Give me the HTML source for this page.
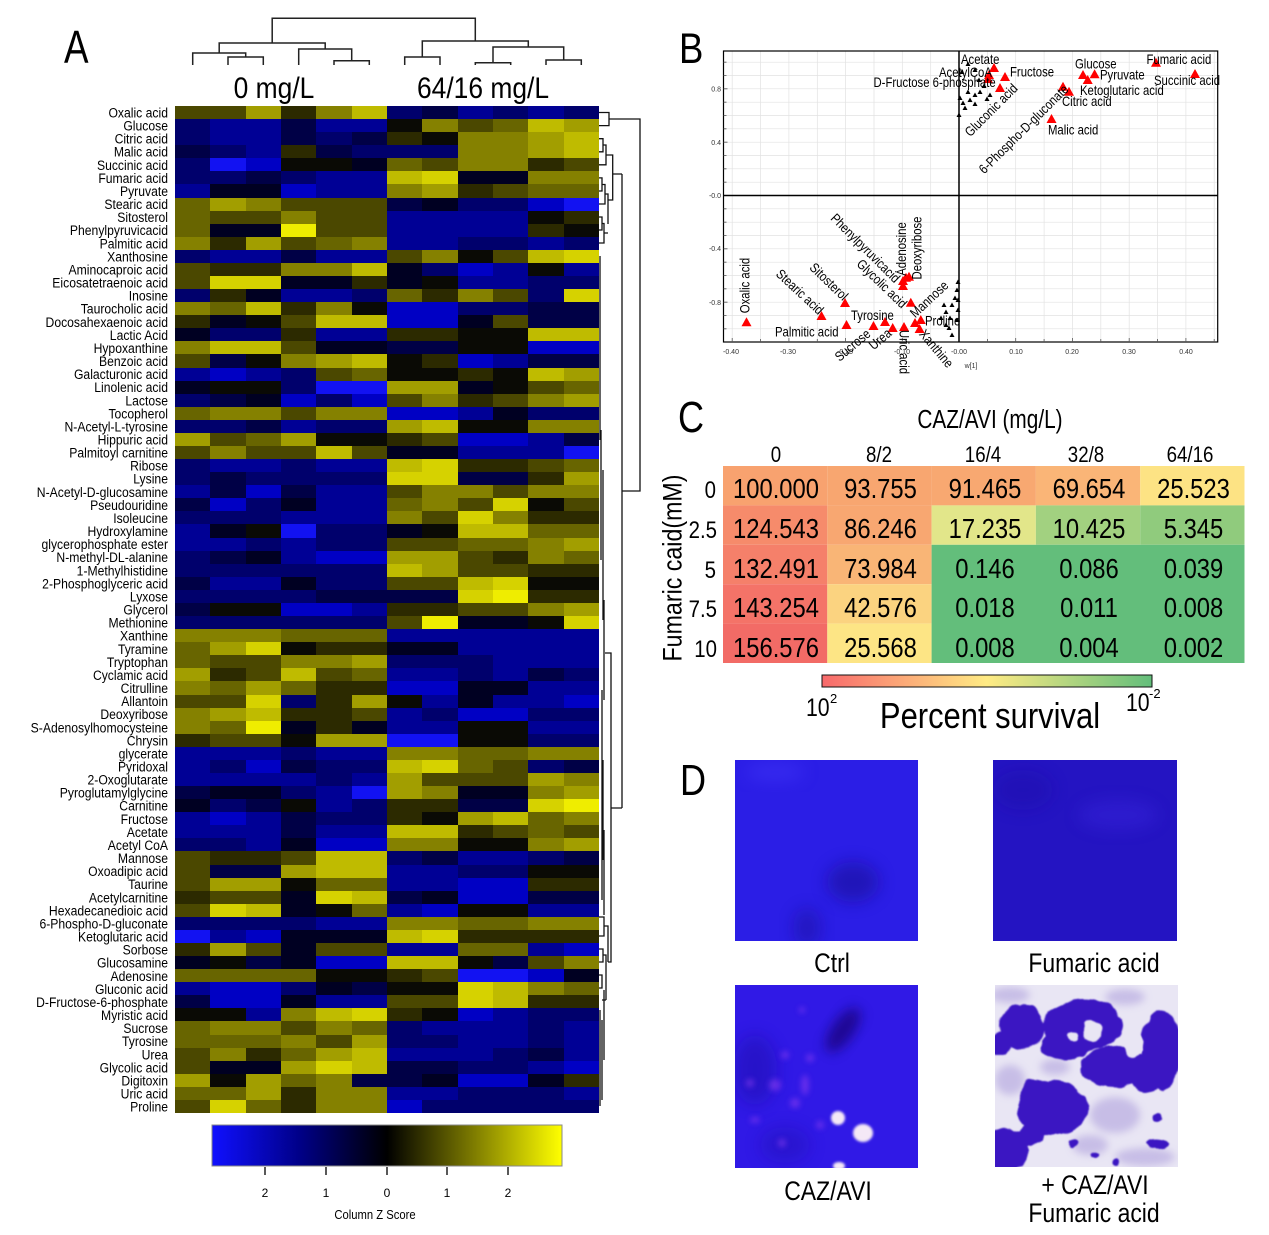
<!DOCTYPE html>
<html><head><meta charset="utf-8"><style>
html,body{margin:0;padding:0;background:#fff}
#w{position:relative;width:1269px;height:1235px;overflow:hidden;background:#fff}
#w>svg{position:absolute;left:0;top:0}
#hm{position:absolute;left:175px;top:106px;width:424px;height:1007px;display:grid;grid-template-columns:repeat(12,1fr);grid-template-rows:repeat(77,1fr)}
#hm i{display:block}
.a{background:#1212f2}.b{background:#0000c4}.c{background:#000095}.d{background:#00006c}.e{background:#000046}.f{background:#000022}
.k{background:#0a0a05}.p{background:#2c2a00}.q{background:#4b4800}.r{background:#686500}.s{background:#858100}.t{background:#a29e00}.u{background:#bfbb00}.v{background:#d6d200}.w{background:#efed00}
</style></head><body><div id="w">
<svg width="1269" height="1235" viewBox="0 0 1269 1235" font-family="Liberation Sans, Arial, sans-serif">
<defs>
<linearGradient id="zg" x1="0" x2="1" y1="0" y2="0"><stop offset="0" stop-color="#1010ff"/><stop offset=".25" stop-color="#000088"/><stop offset=".5" stop-color="#000"/><stop offset=".75" stop-color="#7f7d00"/><stop offset="1" stop-color="#ffff00"/></linearGradient>
<linearGradient id="cg" x1="0" x2="1" y1="0" y2="0"><stop offset="0" stop-color="#f8696b"/><stop offset=".5" stop-color="#ffeb84"/><stop offset="1" stop-color="#63be7b"/></linearGradient>
<filter id="bl" x="-50%" y="-50%" width="200%" height="200%"><feGaussianBlur stdDeviation="8"/></filter>
<filter id="bl6" x="-50%" y="-50%" width="200%" height="200%"><feGaussianBlur stdDeviation="6"/></filter>
<filter id="bl2" x="-50%" y="-50%" width="200%" height="200%"><feGaussianBlur stdDeviation="1.3"/></filter>
<filter id="bl3" x="-50%" y="-50%" width="200%" height="200%"><feGaussianBlur stdDeviation="3"/></filter>
<filter id="bl4" x="-50%" y="-50%" width="200%" height="200%"><feGaussianBlur stdDeviation="4"/></filter>
<filter id="rough" x="-20%" y="-20%" width="140%" height="140%"><feTurbulence type="fractalNoise" baseFrequency="0.07" numOctaves="2" seed="3" result="n"/><feDisplacementMap in="SourceGraphic" in2="n" scale="8" xChannelSelector="R" yChannelSelector="G" result="d"/><feGaussianBlur in="d" stdDeviation="0.8"/></filter>
<path id="rt" d="M-5 4H5L0-5Z" fill="#f00"/>
<path id="bt" d="M-2.5 2H2.5L0-2.5Z" fill="#000"/>
</defs>

<!-- Panel A -->
<text transform="translate(64,63) scale(0.8,1)" font-size="46">A</text>
<text transform="translate(274,98) scale(0.88,1)" font-size="30" text-anchor="middle">0 mg/L</text>
<text transform="translate(483,98) scale(0.88,1)" font-size="30" text-anchor="middle">64/16 mg/L</text>
<path fill="none" stroke="#222" stroke-width="1.5" d="M272.2 43V18.3H475.3V41M219.2 53V43H325.2V49M192.7 65V53H245.7V57M228 65V57H263.3V65M298.7 65V49H351.7V60.7M334 65V60.7H369.3V65M422.3 57V41H528.3V47M404.7 65V57H440V65M493 62.7V47H563.7V60M475.3 65V62.7H510.7V65M546 65V60H581.3V65"/>

<path fill="none" stroke="#111" stroke-width="1.3" d="M599 112.5H609V125.6H599M609 119H640V491H622M622 174V808M612.7 174H622M611 808H622M599 138.7H603V151.8H599M603 145H606V164.8H599M606 155H612.7V200H608M599 177.9H602V191H599M602 184.5H605V204H599M605 194H608V224M599 217H602V230H599M602 223.5H604V243H599M604 233H608M600 256V440M601 430V560M603 470V620M604 600V700M605 653H611V962H608M602 690V900M603 760V860M604 830V915M599 917H604V936H599M604 926H608V962M599 949H603V962H599M603 955H606V1000M599 975H602V988H599M602 1000H606M600 1010V1106M602 1020V1100M604 990V1060"/>

<text font-size="14" text-anchor="end" transform="scale(0.87,1)">
<tspan x="193.1" y="117.5">Oxalic acid</tspan><tspan x="193.1" dy="13.08">Glucose</tspan><tspan x="193.1" dy="13.08">Citric acid</tspan><tspan x="193.1" dy="13.08">Malic acid</tspan><tspan x="193.1" dy="13.08">Succinic acid</tspan><tspan x="193.1" dy="13.08">Fumaric acid</tspan><tspan x="193.1" dy="13.08">Pyruvate</tspan><tspan x="193.1" dy="13.08">Stearic acid</tspan><tspan x="193.1" dy="13.08">Sitosterol</tspan><tspan x="193.1" dy="13.08">Phenylpyruvicacid</tspan><tspan x="193.1" dy="13.08">Palmitic acid</tspan><tspan x="193.1" dy="13.08">Xanthosine</tspan><tspan x="193.1" dy="13.08">Aminocaproic acid</tspan><tspan x="193.1" dy="13.08">Eicosatetraenoic acid</tspan><tspan x="193.1" dy="13.08">Inosine</tspan><tspan x="193.1" dy="13.08">Taurocholic acid</tspan><tspan x="193.1" dy="13.08">Docosahexaenoic acid</tspan><tspan x="193.1" dy="13.08">Lactic Acid</tspan><tspan x="193.1" dy="13.08">Hypoxanthine</tspan><tspan x="193.1" dy="13.08">Benzoic acid</tspan><tspan x="193.1" dy="13.08">Galacturonic acid</tspan><tspan x="193.1" dy="13.08">Linolenic acid</tspan><tspan x="193.1" dy="13.08">Lactose</tspan><tspan x="193.1" dy="13.08">Tocopherol</tspan><tspan x="193.1" dy="13.08">N-Acetyl-L-tyrosine</tspan><tspan x="193.1" dy="13.08">Hippuric acid</tspan><tspan x="193.1" dy="13.08">Palmitoyl carnitine</tspan><tspan x="193.1" dy="13.08">Ribose</tspan><tspan x="193.1" dy="13.08">Lysine</tspan><tspan x="193.1" dy="13.08">N-Acetyl-D-glucosamine</tspan><tspan x="193.1" dy="13.08">Pseudouridine</tspan><tspan x="193.1" dy="13.08">Isoleucine</tspan><tspan x="193.1" dy="13.08">Hydroxylamine</tspan><tspan x="193.1" dy="13.08">glycerophosphate ester</tspan><tspan x="193.1" dy="13.08">N-methyl-DL-alanine</tspan><tspan x="193.1" dy="13.08">1-Methylhistidine</tspan><tspan x="193.1" dy="13.08">2-Phosphoglyceric acid</tspan><tspan x="193.1" dy="13.08">Lyxose</tspan><tspan x="193.1" dy="13.08">Glycerol</tspan><tspan x="193.1" dy="13.08">Methionine</tspan><tspan x="193.1" dy="13.08">Xanthine</tspan><tspan x="193.1" dy="13.08">Tyramine</tspan><tspan x="193.1" dy="13.08">Tryptophan</tspan><tspan x="193.1" dy="13.08">Cyclamic acid</tspan><tspan x="193.1" dy="13.08">Citrulline</tspan><tspan x="193.1" dy="13.08">Allantoin</tspan><tspan x="193.1" dy="13.08">Deoxyribose</tspan><tspan x="193.1" dy="13.08">S-Adenosylhomocysteine</tspan><tspan x="193.1" dy="13.08">Chrysin</tspan><tspan x="193.1" dy="13.08">glycerate</tspan><tspan x="193.1" dy="13.08">Pyridoxal</tspan><tspan x="193.1" dy="13.08">2-Oxoglutarate</tspan><tspan x="193.1" dy="13.08">Pyroglutamylglycine</tspan><tspan x="193.1" dy="13.08">Carnitine</tspan><tspan x="193.1" dy="13.08">Fructose</tspan><tspan x="193.1" dy="13.08">Acetate</tspan><tspan x="193.1" dy="13.08">Acetyl CoA</tspan><tspan x="193.1" dy="13.08">Mannose</tspan><tspan x="193.1" dy="13.08">Oxoadipic acid</tspan><tspan x="193.1" dy="13.08">Taurine</tspan><tspan x="193.1" dy="13.08">Acetylcarnitine</tspan><tspan x="193.1" dy="13.08">Hexadecanedioic acid</tspan><tspan x="193.1" dy="13.08">6-Phospho-D-gluconate</tspan><tspan x="193.1" dy="13.08">Ketoglutaric acid</tspan><tspan x="193.1" dy="13.08">Sorbose</tspan><tspan x="193.1" dy="13.08">Glucosamine</tspan><tspan x="193.1" dy="13.08">Adenosine</tspan><tspan x="193.1" dy="13.08">Gluconic acid</tspan><tspan x="193.1" dy="13.08">D-Fructose-6-phosphate</tspan><tspan x="193.1" dy="13.08">Myristic acid</tspan><tspan x="193.1" dy="13.08">Sucrose</tspan><tspan x="193.1" dy="13.08">Tyrosine</tspan><tspan x="193.1" dy="13.08">Urea</tspan><tspan x="193.1" dy="13.08">Glycolic acid</tspan><tspan x="193.1" dy="13.08">Digitoxin</tspan><tspan x="193.1" dy="13.08">Uric acid</tspan><tspan x="193.1" dy="13.08">Proline</tspan>
</text>

<rect x="212" y="1125" width="350" height="41" fill="url(#zg)" stroke="#888" stroke-width="1"/>
<path stroke="#222" stroke-width="1.5" d="M265 1167V1175M326 1167V1175M387 1167V1175M447 1167V1175M508 1167V1175"/>
<g font-size="12" text-anchor="middle"><text x="265" y="1197">2</text><text x="326" y="1197">1</text><text x="387" y="1197">0</text><text x="447" y="1197">1</text><text x="508" y="1197">2</text></g>
<text transform="translate(375,1219) scale(0.9,1)" font-size="12.5" text-anchor="middle">Column Z Score</text>

<!-- Panel B -->
<text transform="translate(679,63) scale(0.85,1)" font-size="43">B</text>
<path fill="none" stroke="#e2e2e2" stroke-width="0.7" d="M732.2 51V342M760.6 51V342M788.9 51V342M817.3 51V342M845.6 51V342M874 51V342M902.3 51V342M930.7 51V342M987.4 51V342M1015.7 51V342M1044.1 51V342M1072.4 51V342M1100.8 51V342M1129.2 51V342M1157.5 51V342M1185.9 51V342M1214.2 51V342M723.5 62.2H1217.7M723.5 75.5H1217.7M723.5 88.8H1217.7M723.5 102.2H1217.7M723.5 115.5H1217.7M723.5 128.8H1217.7M723.5 142.2H1217.7M723.5 155.5H1217.7M723.5 168.8H1217.7M723.5 182.2H1217.7M723.5 208.8H1217.7M723.5 222.2H1217.7M723.5 235.5H1217.7M723.5 248.8H1217.7M723.5 262.2H1217.7M723.5 275.5H1217.7M723.5 288.8H1217.7M723.5 302.2H1217.7M723.5 315.5H1217.7M723.5 328.8H1217.7"/>
<rect x="723.5" y="51" width="494.2" height="291" fill="none" stroke="#000" stroke-width="1.2"/>
<path stroke="#000" stroke-width="1.5" d="M959 51V342M723.5 195.5H1217.7"/>
<path stroke="#555" stroke-width="0.8" d="M723.5 62.2h3M723.5 75.5h3M723.5 88.8h4M723.5 102.2h3M723.5 115.5h3M723.5 128.8h3M723.5 142.2h4M723.5 155.5h3M723.5 168.8h3M723.5 182.2h3M723.5 208.8h3M723.5 222.2h3M723.5 235.5h3M723.5 248.8h4M723.5 262.2h3M723.5 275.5h3M723.5 288.8h3M723.5 302.2h4M723.5 315.5h3M723.5 328.8h3M732.2 342v-4M760.6 342v-3M788.9 342v-4M817.3 342v-3M845.6 342v-4M874 342v-3M902.3 342v-4M930.7 342v-3M987.4 342v-3M1015.7 342v-4M1044.1 342v-3M1072.4 342v-4M1100.8 342v-3M1129.2 342v-4M1157.5 342v-3M1185.9 342v-4M1214.2 342v-3"/>
<g font-size="7" fill="#333" text-anchor="end"><text x="721" y="91.5">0.8</text><text x="721" y="145">0.4</text><text x="721" y="198">-0.0</text><text x="721" y="251">-0.4</text><text x="721" y="305">-0.8</text></g>
<g font-size="7" fill="#333" text-anchor="middle"><text x="731" y="354">-0.40</text><text x="788" y="354">-0.30</text><text x="845" y="354">-0.20</text><text x="902" y="354">-0.10</text><text x="959" y="354">-0.00</text><text x="1016" y="354">0.10</text><text x="1072" y="354">0.20</text><text x="1129" y="354">0.30</text><text x="1186" y="354">0.40</text><text x="971" y="368">w[1]</text></g>

<g>
<use href="#bt" x="968" y="64"/><use href="#bt" x="975" y="70"/><use href="#bt" x="962" y="72"/><use href="#bt" x="979" y="80"/><use href="#bt" x="984" y="86"/><use href="#bt" x="968" y="92"/><use href="#bt" x="975" y="95"/><use href="#bt" x="960" y="98"/><use href="#bt" x="963" y="103"/><use href="#bt" x="970" y="100"/><use href="#bt" x="987" y="99"/><use href="#bt" x="975" y="104"/><use href="#bt" x="959" y="115"/><use href="#bt" x="965" y="108"/><use href="#bt" x="980" y="92"/><use href="#bt" x="990" y="95"/>
<use href="#bt" x="958" y="282"/><use href="#bt" x="957" y="290"/><use href="#bt" x="955" y="298"/><use href="#bt" x="952" y="305"/><use href="#bt" x="944" y="305"/><use href="#bt" x="946" y="312"/><use href="#bt" x="941" y="318"/><use href="#bt" x="950" y="318"/><use href="#bt" x="958" y="310"/><use href="#bt" x="957" y="320"/><use href="#bt" x="949" y="328"/><use href="#bt" x="952" y="335"/><use href="#bt" x="946" y="325"/><use href="#bt" x="958" y="300"/>
</g>
<g>
<use href="#rt" x="746.5" y="322.3"/><use href="#rt" x="821.5" y="316"/><use href="#rt" x="845" y="303"/><use href="#rt" x="846.5" y="325"/><use href="#rt" x="873.5" y="326"/><use href="#rt" x="885" y="322"/><use href="#rt" x="892.7" y="328"/><use href="#rt" x="904" y="327"/><use href="#rt" x="919.6" y="329"/><use href="#rt" x="920.8" y="320"/><use href="#rt" x="915" y="323"/><use href="#rt" x="910.8" y="302.7"/><use href="#rt" x="903" y="286"/><use href="#rt" x="906" y="277.7"/><use href="#rt" x="903" y="281"/><use href="#rt" x="909" y="276.7"/>
<use href="#rt" x="994" y="68"/><use href="#rt" x="989" y="75"/><use href="#rt" x="988" y="79"/><use href="#rt" x="1005" y="77"/><use href="#rt" x="1000" y="88"/><use href="#rt" x="1063" y="86.7"/><use href="#rt" x="1083" y="75"/><use href="#rt" x="1094.6" y="74.3"/><use href="#rt" x="1087.7" y="80"/><use href="#rt" x="1069" y="91.7"/><use href="#rt" x="1051.5" y="119"/><use href="#rt" x="1156" y="62.7"/><use href="#rt" x="1195" y="74"/>
</g>
<g font-size="13.5">
<text transform="translate(961,64) scale(0.84,1)">Acetate</text>
<text transform="translate(939,77) scale(0.84,1)">AcetylCoA</text>
<text transform="translate(873.5,87) scale(0.84,1)">D-Fructose 6-phosphate</text>
<text transform="translate(1010,76.5) scale(0.84,1)">Fructose</text>
<text transform="translate(1075,68.5) scale(0.84,1)">Glucose</text>
<text transform="translate(1100,79.5) scale(0.84,1)">Pyruvate</text>
<text transform="translate(1080,95) scale(0.84,1)">Ketoglutaric acid</text>
<text transform="translate(1062,106) scale(0.84,1)">Citric acid</text>
<text transform="translate(1048,134.5) scale(0.84,1)">Malic acid</text>
<text transform="translate(1146.5,64) scale(0.84,1)">Fumaric acid</text>
<text transform="translate(1154,85) scale(0.84,1)">Succinic acid</text>
<text transform="translate(775,336.5) scale(0.84,1)">Palmitic acid</text>
<text transform="translate(851,320) scale(0.84,1)">Tyrosine</text>
<text transform="translate(925,325.5) scale(0.84,1)">Proline</text>
</g>
<g font-size="13.5" text-anchor="middle">
<text transform="translate(745,285.5) rotate(-90) scale(0.84,1)" dy="0.35em">Oxalic acid</text>
<text transform="translate(800,291.7) rotate(43) scale(0.84,1)" dy="0.35em">Stearic acid</text>
<text transform="translate(829,281.5) rotate(44) scale(0.84,1)" dy="0.35em">Sitosterol</text>
<text transform="translate(865.5,248) rotate(45) scale(0.84,1)" dy="0.35em">Phenylpyruvicacid</text>
<text transform="translate(882,283.5) rotate(44) scale(0.84,1)" dy="0.35em">Glycolic acid</text>
<text transform="translate(901.5,249) rotate(-90) scale(0.84,1)" dy="0.35em">Adenosine</text>
<text transform="translate(917,248) rotate(-90) scale(0.84,1)" dy="0.35em">Deoxyribose</text>
<text transform="translate(929,299) rotate(-43) scale(0.84,1)" dy="0.35em">Mannose</text>
<text transform="translate(936.5,348.5) rotate(50) scale(0.84,1)" dy="0.35em">Xanthine</text>
<text transform="translate(904,352) rotate(90) scale(0.84,1)" dy="0.35em">Uric acid</text>
<text transform="translate(880,339) rotate(-40) scale(0.84,1)" dy="0.35em">Urea</text>
<text transform="translate(852.5,345) rotate(-40) scale(0.84,1)" dy="0.35em">Sucrose</text>
<text transform="translate(991,110) rotate(-45) scale(0.84,1)" dy="0.35em">Gluconic acid</text>
<text transform="translate(1023.5,129) rotate(-44.7) scale(0.84,1)" dy="0.35em">6-Phospho-D-gluconate</text>
</g>

<!-- Panel C -->
<text transform="translate(678,432) scale(0.82,1)" font-size="44">C</text>
<text transform="translate(990,428) scale(0.8,1)" font-size="26" text-anchor="middle">CAZ/AVI (mg/L)</text>
<g font-size="22" text-anchor="middle">
<text transform="translate(776,462) scale(0.85,1)">0</text>
<text transform="translate(879,462) scale(0.85,1)">8/2</text>
<text transform="translate(983,462) scale(0.85,1)">16/4</text>
<text transform="translate(1086,462) scale(0.85,1)">32/8</text>
<text transform="translate(1190,462) scale(0.85,1)">64/16</text>
</g>
<g>
<rect x="723" y="466" width="104.3" height="39.4" fill="#f8a26f"/>
<rect x="827.3" y="466" width="104.3" height="39.4" fill="#f8a670"/>
<rect x="931.6" y="466" width="104.3" height="39.4" fill="#f8a871"/>
<rect x="1035.9" y="466" width="104.3" height="39.4" fill="#fab577"/>
<rect x="1140.2" y="466" width="104.3" height="39.4" fill="#fde384"/>
<rect x="723" y="505.4" width="104.3" height="39.4" fill="#f68b6b"/>
<rect x="827.3" y="505.4" width="104.3" height="39.4" fill="#f8a771"/>
<rect x="931.6" y="505.4" width="104.3" height="39.4" fill="#e2e68a"/>
<rect x="1035.9" y="505.4" width="104.3" height="39.4" fill="#a2d180"/>
<rect x="1140.2" y="505.4" width="104.3" height="39.4" fill="#90cb7d"/>
<rect x="723" y="544.8" width="104.3" height="39.4" fill="#f5806a"/>
<rect x="827.3" y="544.8" width="104.3" height="39.4" fill="#f9b576"/>
<rect x="723" y="584.2" width="104.3" height="39.4" fill="#f47368"/>
<rect x="827.3" y="584.2" width="104.3" height="39.4" fill="#fbd380"/>
<rect x="723" y="623.6" width="104.3" height="39.4" fill="#f26b66"/>
<rect x="827.3" y="623.6" width="104.3" height="39.4" fill="#fde585"/>
<rect x="931.6" y="544.8" width="312.9" height="118.2" fill="#63be7b"/>
</g>
<g font-size="28" text-anchor="middle">
<text transform="translate(776,498) scale(0.85,1)">100.000</text><text transform="translate(880.5,498) scale(0.85,1)">93.755</text><text transform="translate(985,498) scale(0.85,1)">91.465</text><text transform="translate(1089,498) scale(0.85,1)">69.654</text><text transform="translate(1193.5,498) scale(0.85,1)">25.523</text>
<text transform="translate(776,538) scale(0.85,1)">124.543</text><text transform="translate(880.5,538) scale(0.85,1)">86.246</text><text transform="translate(985,538) scale(0.85,1)">17.235</text><text transform="translate(1089,538) scale(0.85,1)">10.425</text><text transform="translate(1193.5,538) scale(0.85,1)">5.345</text>
<text transform="translate(776,578) scale(0.85,1)">132.491</text><text transform="translate(880.5,578) scale(0.85,1)">73.984</text><text transform="translate(985,578) scale(0.85,1)">0.146</text><text transform="translate(1089,578) scale(0.85,1)">0.086</text><text transform="translate(1193.5,578) scale(0.85,1)">0.039</text>
<text transform="translate(776,617) scale(0.85,1)">143.254</text><text transform="translate(880.5,617) scale(0.85,1)">42.576</text><text transform="translate(985,617) scale(0.85,1)">0.018</text><text transform="translate(1089,617) scale(0.85,1)">0.011</text><text transform="translate(1193.5,617) scale(0.85,1)">0.008</text>
<text transform="translate(776,657) scale(0.85,1)">156.576</text><text transform="translate(880.5,657) scale(0.85,1)">25.568</text><text transform="translate(985,657) scale(0.85,1)">0.008</text><text transform="translate(1089,657) scale(0.85,1)">0.004</text><text transform="translate(1193.5,657) scale(0.85,1)">0.002</text>
</g>
<g font-size="24" text-anchor="end">
<text transform="translate(716,498) scale(0.85,1)">0</text>
<text transform="translate(717,538) scale(0.85,1)">2.5</text>
<text transform="translate(716,578) scale(0.85,1)">5</text>
<text transform="translate(717,617) scale(0.85,1)">7.5</text>
<text transform="translate(717,657) scale(0.85,1)">10</text>
</g>
<text transform="translate(681.5,568) rotate(-90)" font-size="27" text-anchor="middle" textLength="187" lengthAdjust="spacingAndGlyphs">Fumaric caid(mM)</text>
<rect x="822" y="675" width="330" height="12" fill="url(#cg)" stroke="#111" stroke-width="1"/>
<text transform="translate(806,716) scale(0.85,1)" font-size="25">10</text>
<text x="830" y="703" font-size="13">2</text>
<text transform="translate(990,728) scale(0.86,1)" font-size="36" text-anchor="middle">Percent survival</text>
<text transform="translate(1126,711) scale(0.85,1)" font-size="25">10</text>
<text x="1149" y="698" font-size="13">-2</text>

<!-- Panel D -->
<text transform="translate(680,795) scale(0.82,1)" font-size="44">D</text>
<svg x="735" y="760" width="183" height="181">
<rect width="183" height="181" fill="#2b1ee6"/>
<ellipse cx="118" cy="122" rx="26" ry="20" fill="#160a8c" opacity=".5" filter="url(#bl)"/>
<ellipse cx="72" cy="168" rx="14" ry="20" fill="#160a8c" opacity=".4" filter="url(#bl)"/>
<ellipse cx="40" cy="12" rx="30" ry="10" fill="#4a3cff" opacity=".35" filter="url(#bl)"/>
</svg>
<svg x="993" y="760" width="184" height="181">
<rect width="184" height="181" fill="#2414c2"/>
<ellipse cx="125" cy="55" rx="40" ry="15" fill="#3a28e0" opacity=".4" filter="url(#bl)"/>
<ellipse cx="30" cy="30" rx="30" ry="20" fill="#1d0fa8" opacity=".4" filter="url(#bl)"/>
</svg>
<svg x="735" y="985" width="183" height="183">
<rect width="183" height="183" fill="#3019e6"/>
<ellipse cx="20" cy="85" rx="22" ry="35" fill="#1e0ea8" opacity=".45" filter="url(#bl)"/>
<ellipse cx="50" cy="160" rx="25" ry="18" fill="#1e0ea8" opacity=".35" filter="url(#bl)"/>
<ellipse cx="0" cy="0" rx="26" ry="11" transform="translate(108,45) rotate(-55)" fill="#120670" opacity=".7" filter="url(#bl6)"/>
<g fill="#8a3cf0" opacity=".6" filter="url(#bl3)">
<circle cx="67" cy="25" r="3"/><circle cx="75" cy="73" r="4"/><ellipse cx="20" cy="135" rx="5" ry="3"/><circle cx="15" cy="98" r="4"/><circle cx="47" cy="158" r="4"/><circle cx="60" cy="118" r="5"/><circle cx="40" cy="100" r="6"/><ellipse cx="70" cy="100" rx="4" ry="10"/><circle cx="85" cy="140" r="4"/><circle cx="50" cy="70" r="4"/>
</g>
<g fill="#f4e8f6" filter="url(#bl2)">
<ellipse cx="103" cy="133" rx="7" ry="7"/><ellipse cx="128" cy="148" rx="10" ry="9"/><ellipse cx="104" cy="181" rx="6" ry="4"/>
</g>
</svg>
<svg x="995" y="985" width="183" height="182">
<rect width="183" height="182" fill="#e9e6f4"/>
<g fill="#bcb0e2" opacity=".75" filter="url(#bl4)">
<ellipse cx="15" cy="10" rx="20" ry="8"/><ellipse cx="15" cy="95" rx="15" ry="15"/><ellipse cx="120" cy="130" rx="25" ry="18"/><ellipse cx="150" cy="172" rx="30" ry="9"/><ellipse cx="130" cy="12" rx="20" ry="8"/><ellipse cx="95" cy="160" rx="18" ry="10"/><ellipse cx="60" cy="82" rx="15" ry="8"/>
</g>
<g fill="#3a12c2" filter="url(#rough)">
<ellipse cx="27" cy="42" rx="22" ry="22"/>
<ellipse cx="88" cy="40" rx="40" ry="26"/>
<ellipse cx="70" cy="60" rx="25" ry="15"/>
<ellipse cx="120" cy="82" rx="35" ry="20"/>
<ellipse cx="166" cy="65" rx="20" ry="40"/>
<ellipse cx="150" cy="96" rx="15" ry="12"/>
<ellipse cx="6" cy="60" rx="10" ry="12"/>
<ellipse cx="57" cy="123" rx="35" ry="28"/>
<ellipse cx="40" cy="110" rx="15" ry="15"/>
<ellipse cx="12" cy="165" rx="22" ry="22"/>
<ellipse cx="35" cy="150" rx="12" ry="10"/>
<circle cx="162" cy="133" r="5"/><ellipse cx="162" cy="158" rx="11" ry="4"/><circle cx="78" cy="158" r="5"/><circle cx="122" cy="177" r="4"/><circle cx="100" cy="170" r="3"/>
</g>
<g fill="#e9e6f4" filter="url(#rough)">
<ellipse cx="98" cy="46" rx="9" ry="11"/><ellipse cx="78" cy="52" rx="5" ry="4"/><ellipse cx="138" cy="58" rx="10" ry="14"/>
</g>
</svg>
<g font-size="27" text-anchor="middle">
<text transform="translate(832,972) scale(0.85,1)">Ctrl</text>
<text transform="translate(1094,972) scale(0.85,1)">Fumaric acid</text>
<text transform="translate(828,1200) scale(0.85,1)">CAZ/AVI</text>
<text transform="translate(1095,1194) scale(0.85,1)">+ CAZ/AVI</text>
<text transform="translate(1094,1222) scale(0.85,1)">Fumaric acid</text>
</g>
</svg>
<div id="hm">
<i class=q></i><i class=q></i><i class=t></i><i class=p></i><i class=s></i><i class=u></i><i class=d></i><i class=e></i><i class=c></i><i class=d></i><i class=c></i><i class=d></i>
<i class=d></i><i class=c></i><i class=c></i><i class=e></i><i class=c></i><i class=c></i><i class=k></i><i class=s></i><i class=q></i><i class=r></i><i class=u></i><i class=t></i>
<i class=d></i><i class=c></i><i class=c></i><i class=e></i><i class=d></i><i class=e></i><i class=p></i><i class=k></i><i class=s></i><i class=s></i><i class=t></i><i class=u></i>
<i class=e></i><i class=d></i><i class=c></i><i class=p></i><i class=e></i><i class=d></i><i class=d></i><i class=d></i><i class=s></i><i class=s></i><i class=t></i><i class=u></i>
<i class=d></i><i class=a></i><i class=b></i><i class=k></i><i class=k></i><i class=f></i><i class=r></i><i class=q></i><i class=s></i><i class=s></i><i class=p></i><i class=q></i>
<i class=d></i><i class=d></i><i class=e></i><i class=d></i><i class=c></i><i class=c></i><i class=u></i><i class=v></i><i class=f></i><i class=f></i><i class=s></i><i class=s></i>
<i class=c></i><i class=f></i><i class=f></i><i class=b></i><i class=c></i><i class=c></i><i class=s></i><i class=t></i><i class=p></i><i class=q></i><i class=r></i><i class=r></i>
<i class=r></i><i class=t></i><i class=s></i><i class=q></i><i class=q></i><i class=q></i><i class=e></i><i class=f></i><i class=d></i><i class=d></i><i class=b></i><i class=a></i>
<i class=r></i><i class=q></i><i class=q></i><i class=s></i><i class=q></i><i class=q></i><i class=c></i><i class=c></i><i class=c></i><i class=c></i><i class=k></i><i class=p></i>
<i class=r></i><i class=f></i><i class=f></i><i class=w></i><i class=q></i><i class=q></i><i class=c></i><i class=c></i><i class=c></i><i class=c></i><i class=p></i><i class=k></i>
<i class=s></i><i class=p></i><i class=t></i><i class=q></i><i class=r></i><i class=s></i><i class=c></i><i class=c></i><i class=d></i><i class=d></i><i class=c></i><i class=d></i>
<i class=d></i><i class=c></i><i class=c></i><i class=e></i><i class=c></i><i class=c></i><i class=q></i><i class=s></i><i class=k></i><i class=q></i><i class=u></i><i class=v></i>
<i class=q></i><i class=p></i><i class=p></i><i class=s></i><i class=s></i><i class=u></i><i class=f></i><i class=d></i><i class=b></i><i class=c></i><i class=k></i><i class=c></i>
<i class=q></i><i class=v></i><i class=v></i><i class=f></i><i class=f></i><i class=p></i><i class=f></i><i class=k></i><i class=c></i><i class=c></i><i class=d></i><i class=d></i>
<i class=d></i><i class=p></i><i class=f></i><i class=c></i><i class=c></i><i class=d></i><i class=r></i><i class=p></i><i class=s></i><i class=q></i><i class=d></i><i class=v></i>
<i class=s></i><i class=r></i><i class=u></i><i class=p></i><i class=s></i><i class=k></i><i class=b></i><i class=b></i><i class=d></i><i class=d></i><i class=e></i><i class=e></i>
<i class=p></i><i class=f></i><i class=k></i><i class=q></i><i class=u></i><i class=u></i><i class=b></i><i class=b></i><i class=f></i><i class=q></i><i class=e></i><i class=e></i>
<i class=f></i><i class=d></i><i class=d></i><i class=p></i><i class=c></i><i class=c></i><i class=p></i><i class=p></i><i class=k></i><i class=k></i><i class=u></i><i class=u></i>
<i class=s></i><i class=u></i><i class=u></i><i class=q></i><i class=f></i><i class=f></i><i class=e></i><i class=e></i><i class=k></i><i class=k></i><i class=b></i><i class=b></i>
<i class=q></i><i class=e></i><i class=k></i><i class=s></i><i class=t></i><i class=u></i><i class=k></i><i class=p></i><i class=b></i><i class=c></i><i class=e></i><i class=e></i>
<i class=c></i><i class=b></i><i class=c></i><i class=d></i><i class=q></i><i class=r></i><i class=k></i><i class=k></i><i class=p></i><i class=k></i><i class=u></i><i class=t></i>
<i class=f></i><i class=k></i><i class=k></i><i class=d></i><i class=a></i><i class=a></i><i class=t></i><i class=t></i><i class=f></i><i class=k></i><i class=q></i><i class=r></i>
<i class=d></i><i class=e></i><i class=f></i><i class=b></i><i class=d></i><i class=b></i><i class=q></i><i class=s></i><i class=p></i><i class=q></i><i class=s></i><i class=t></i>
<i class=r></i><i class=s></i><i class=s></i><i class=q></i><i class=s></i><i class=s></i><i class=b></i><i class=b></i><i class=c></i><i class=f></i><i class=d></i><i class=d></i>
<i class=d></i><i class=d></i><i class=e></i><i class=c></i><i class=d></i><i class=d></i><i class=t></i><i class=u></i><i class=k></i><i class=k></i><i class=s></i><i class=s></i>
<i class=t></i><i class=q></i><i class=r></i><i class=t></i><i class=k></i><i class=k></i><i class=p></i><i class=q></i><i class=b></i><i class=b></i><i class=c></i><i class=e></i>
<i class=q></i><i class=s></i><i class=q></i><i class=q></i><i class=u></i><i class=q></i><i class=f></i><i class=f></i><i class=c></i><i class=c></i><i class=c></i><i class=a></i>
<i class=d></i><i class=c></i><i class=c></i><i class=d></i><i class=c></i><i class=c></i><i class=u></i><i class=v></i><i class=p></i><i class=p></i><i class=q></i><i class=r></i>
<i class=d></i><i class=e></i><i class=d></i><i class=d></i><i class=d></i><i class=d></i><i class=v></i><i class=v></i><i class=e></i><i class=e></i><i class=p></i><i class=t></i>
<i class=c></i><i class=e></i><i class=b></i><i class=e></i><i class=c></i><i class=c></i><i class=q></i><i class=s></i><i class=s></i><i class=q></i><i class=s></i><i class=s></i>
<i class=e></i><i class=b></i><i class=d></i><i class=f></i><i class=c></i><i class=c></i><i class=r></i><i class=s></i><i class=q></i><i class=v></i><i class=k></i><i class=q></i>
<i class=d></i><i class=d></i><i class=d></i><i class=c></i><i class=c></i><i class=c></i><i class=s></i><i class=q></i><i class=v></i><i class=s></i><i class=p></i><i class=p></i>
<i class=c></i><i class=f></i><i class=k></i><i class=a></i><i class=d></i><i class=d></i><i class=f></i><i class=k></i><i class=u></i><i class=u></i><i class=r></i><i class=r></i>
<i class=c></i><i class=c></i><i class=d></i><i class=c></i><i class=d></i><i class=d></i><i class=q></i><i class=q></i><i class=r></i><i class=r></i><i class=s></i><i class=t></i>
<i class=d></i><i class=e></i><i class=f></i><i class=c></i><i class=b></i><i class=b></i><i class=t></i><i class=t></i><i class=q></i><i class=p></i><i class=s></i><i class=r></i>
<i class=d></i><i class=d></i><i class=d></i><i class=d></i><i class=d></i><i class=d></i><i class=u></i><i class=t></i><i class=q></i><i class=q></i><i class=p></i><i class=p></i>
<i class=e></i><i class=c></i><i class=c></i><i class=f></i><i class=d></i><i class=d></i><i class=q></i><i class=q></i><i class=u></i><i class=v></i><i class=k></i><i class=k></i>
<i class=d></i><i class=d></i><i class=d></i><i class=d></i><i class=e></i><i class=e></i><i class=e></i><i class=e></i><i class=v></i><i class=w></i><i class=p></i><i class=p></i>
<i class=e></i><i class=k></i><i class=k></i><i class=b></i><i class=b></i><i class=c></i><i class=p></i><i class=p></i><i class=q></i><i class=q></i><i class=s></i><i class=t></i>
<i class=d></i><i class=d></i><i class=d></i><i class=d></i><i class=d></i><i class=d></i><i class=q></i><i class=w></i><i class=f></i><i class=f></i><i class=k></i><i class=v></i>
<i class=s></i><i class=s></i><i class=s></i><i class=r></i><i class=r></i><i class=r></i><i class=c></i><i class=c></i><i class=c></i><i class=c></i><i class=c></i><i class=c></i>
<i class=r></i><i class=t></i><i class=v></i><i class=k></i><i class=p></i><i class=p></i><i class=f></i><i class=f></i><i class=c></i><i class=c></i><i class=c></i><i class=c></i>
<i class=r></i><i class=q></i><i class=q></i><i class=s></i><i class=s></i><i class=t></i><i class=d></i><i class=d></i><i class=d></i><i class=c></i><i class=c></i><i class=c></i>
<i class=t></i><i class=p></i><i class=q></i><i class=u></i><i class=q></i><i class=r></i><i class=c></i><i class=c></i><i class=d></i><i class=c></i><i class=e></i><i class=d></i>
<i class=s></i><i class=r></i><i class=t></i><i class=r></i><i class=p></i><i class=p></i><i class=b></i><i class=b></i><i class=f></i><i class=f></i><i class=c></i><i class=c></i>
<i class=q></i><i class=q></i><i class=v></i><i class=d></i><i class=p></i><i class=t></i><i class=k></i><i class=c></i><i class=f></i><i class=c></i><i class=c></i><i class=b></i>
<i class=s></i><i class=t></i><i class=u></i><i class=p></i><i class=p></i><i class=q></i><i class=c></i><i class=d></i><i class=b></i><i class=b></i><i class=d></i><i class=d></i>
<i class=s></i><i class=r></i><i class=w></i><i class=f></i><i class=p></i><i class=f></i><i class=c></i><i class=c></i><i class=k></i><i class=k></i><i class=c></i><i class=c></i>
<i class=p></i><i class=q></i><i class=q></i><i class=k></i><i class=t></i><i class=t></i><i class=a></i><i class=a></i><i class=k></i><i class=k></i><i class=d></i><i class=d></i>
<i class=c></i><i class=c></i><i class=c></i><i class=d></i><i class=c></i><i class=c></i><i class=s></i><i class=s></i><i class=r></i><i class=r></i><i class=s></i><i class=s></i>
<i class=c></i><i class=d></i><i class=b></i><i class=e></i><i class=d></i><i class=d></i><i class=u></i><i class=v></i><i class=r></i><i class=q></i><i class=d></i><i class=e></i>
<i class=c></i><i class=c></i><i class=c></i><i class=c></i><i class=d></i><i class=c></i><i class=t></i><i class=q></i><i class=q></i><i class=q></i><i class=t></i><i class=s></i>
<i class=e></i><i class=f></i><i class=f></i><i class=d></i><i class=c></i><i class=a></i><i class=t></i><i class=s></i><i class=f></i><i class=f></i><i class=s></i><i class=t></i>
<i class=f></i><i class=d></i><i class=e></i><i class=k></i><i class=c></i><i class=d></i><i class=p></i><i class=p></i><i class=e></i><i class=e></i><i class=v></i><i class=w></i>
<i class=c></i><i class=b></i><i class=c></i><i class=e></i><i class=d></i><i class=d></i><i class=p></i><i class=k></i><i class=t></i><i class=u></i><i class=r></i><i class=s></i>
<i class=c></i><i class=c></i><i class=c></i><i class=e></i><i class=c></i><i class=c></i><i class=u></i><i class=u></i><i class=p></i><i class=q></i><i class=r></i><i class=q></i>
<i class=d></i><i class=d></i><i class=c></i><i class=f></i><i class=b></i><i class=b></i><i class=s></i><i class=s></i><i class=k></i><i class=k></i><i class=s></i><i class=t></i>
<i class=q></i><i class=p></i><i class=p></i><i class=q></i><i class=u></i><i class=u></i><i class=d></i><i class=e></i><i class=c></i><i class=c></i><i class=d></i><i class=e></i>
<i class=q></i><i class=e></i><i class=e></i><i class=t></i><i class=u></i><i class=u></i><i class=c></i><i class=c></i><i class=d></i><i class=d></i><i class=k></i><i class=k></i>
<i class=q></i><i class=t></i><i class=t></i><i class=k></i><i class=r></i><i class=r></i><i class=c></i><i class=c></i><i class=b></i><i class=b></i><i class=p></i><i class=p></i>
<i class=p></i><i class=q></i><i class=q></i><i class=f></i><i class=v></i><i class=u></i><i class=e></i><i class=f></i><i class=b></i><i class=b></i><i class=e></i><i class=e></i>
<i class=q></i><i class=v></i><i class=u></i><i class=f></i><i class=k></i><i class=r></i><i class=c></i><i class=b></i><i class=k></i><i class=k></i><i class=c></i><i class=c></i>
<i class=d></i><i class=d></i><i class=d></i><i class=d></i><i class=c></i><i class=c></i><i class=s></i><i class=s></i><i class=r></i><i class=r></i><i class=s></i><i class=s></i>
<i class=a></i><i class=c></i><i class=b></i><i class=f></i><i class=f></i><i class=f></i><i class=u></i><i class=v></i><i class=p></i><i class=p></i><i class=p></i><i class=p></i>
<i class=p></i><i class=t></i><i class=q></i><i class=f></i><i class=q></i><i class=q></i><i class=c></i><i class=c></i><i class=r></i><i class=r></i><i class=c></i><i class=b></i>
<i class=f></i><i class=k></i><i class=e></i><i class=f></i><i class=b></i><i class=b></i><i class=u></i><i class=u></i><i class=k></i><i class=e></i><i class=q></i><i class=s></i>
<i class=r></i><i class=r></i><i class=r></i><i class=r></i><i class=k></i><i class=k></i><i class=p></i><i class=q></i><i class=a></i><i class=a></i><i class=b></i><i class=f></i>
<i class=c></i><i class=b></i><i class=b></i><i class=d></i><i class=f></i><i class=e></i><i class=k></i><i class=k></i><i class=v></i><i class=u></i><i class=s></i><i class=r></i>
<i class=e></i><i class=b></i><i class=b></i><i class=f></i><i class=c></i><i class=c></i><i class=q></i><i class=q></i><i class=v></i><i class=u></i><i class=p></i><i class=p></i>
<i class=k></i><i class=k></i><i class=c></i><i class=s></i><i class=u></i><i class=v></i><i class=p></i><i class=k></i><i class=b></i><i class=c></i><i class=d></i><i class=d></i>
<i class=r></i><i class=s></i><i class=s></i><i class=q></i><i class=s></i><i class=r></i><i class=d></i><i class=c></i><i class=c></i><i class=c></i><i class=d></i><i class=c></i>
<i class=r></i><i class=r></i><i class=r></i><i class=s></i><i class=q></i><i class=t></i><i class=d></i><i class=d></i><i class=c></i><i class=c></i><i class=d></i><i class=c></i>
<i class=q></i><i class=s></i><i class=p></i><i class=r></i><i class=t></i><i class=u></i><i class=c></i><i class=c></i><i class=c></i><i class=d></i><i class=e></i><i class=c></i>
<i class=q></i><i class=f></i><i class=f></i><i class=t></i><i class=v></i><i class=u></i><i class=e></i><i class=e></i><i class=d></i><i class=d></i><i class=c></i><i class=b></i>
<i class=t></i><i class=k></i><i class=t></i><i class=r></i><i class=s></i><i class=e></i><i class=e></i><i class=f></i><i class=b></i><i class=b></i><i class=f></i><i class=p></i>
<i class=r></i><i class=r></i><i class=t></i><i class=p></i><i class=s></i><i class=s></i><i class=c></i><i class=c></i><i class=d></i><i class=d></i><i class=d></i><i class=c></i>
<i class=q></i><i class=v></i><i class=r></i><i class=p></i><i class=s></i><i class=s></i><i class=b></i><i class=d></i><i class=d></i><i class=d></i><i class=d></i><i class=d></i>
</div>
</div></body></html>
